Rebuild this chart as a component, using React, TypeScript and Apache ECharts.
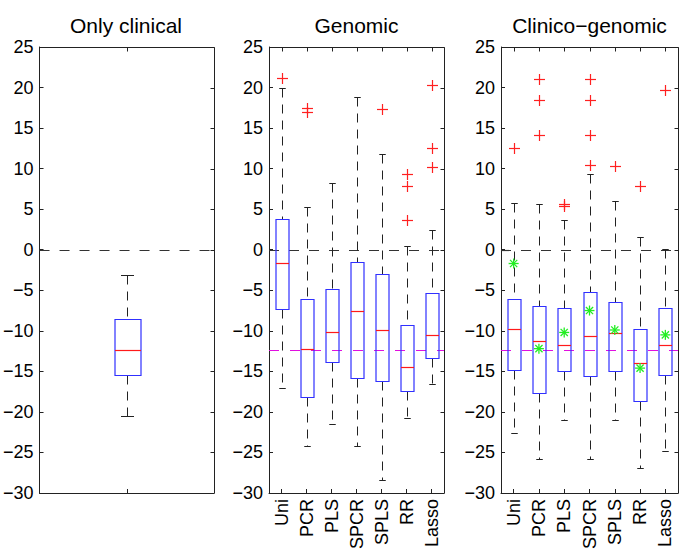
import React, { useEffect, useRef } from 'react';
import * as echarts from 'echarts';

const yMin = -30;
const yMax = 25;
const yInterval = 5;
const yTickValues = [-30, -25, -20, -15, -10, -5, 0, 5, 10, 15, 20, 25];

const panelTitles = ['Only clinical', 'Genomic', 'Clinico\u2212genomic'];
const clinicalCategories = [''];
const methodCategories = ['Uni', 'PCR', 'PLS', 'SPCR', 'SPLS', 'RR', 'Lasso'];

// [lower whisker, Q1, median, Q3, upper whisker]
const clinicalBoxes = [[-20.5, -15.5, -12.4, -8.6, -3.1]];
const genomicBoxes = [
  [-17.0, -7.3, -1.6, 3.8, 19.9],
  [-24.2, -18.1, -12.2, -6.1, 5.3],
  [-21.5, -13.9, -10.1, -4.9, 8.2],
  [-24.2, -15.8, -7.5, -1.5, 18.8],
  [-28.4, -16.2, -9.9, -3.0, 11.8],
  [-20.8, -17.4, -14.5, -9.3, 0.5],
  [-16.5, -13.4, -10.5, -5.3, 2.4],
];
// [category index, value]
const genomicOutliers = [
  [0, 21.2], [1, 17.5], [1, 17.0], [4, 17.3],
  [5, 9.3], [5, 7.8], [5, 3.7], [6, 20.3], [6, 12.5], [6, 10.2],
];
const clinicoBoxes = [
  [-22.6, -14.8, -9.8, -6.1, 5.8],
  [-25.8, -17.7, -11.2, -7.0, 5.7],
  [-21.0, -14.9, -11.8, -7.2, 3.7],
  [-25.8, -15.6, -10.7, -5.2, 9.4],
  [-21.0, -15.0, -10.3, -6.4, 6.0],
  [-26.9, -18.7, -14.0, -9.8, 1.6],
  [-24.8, -15.5, -11.8, -7.2, 0.1],
];
const clinicoOutliers = [
  [0, 12.5], [1, 21.1], [1, 18.5], [1, 14.2], [2, 5.7], [2, 5.4],
  [3, 21.1], [3, 18.5], [3, 14.2], [3, 10.5], [4, 10.3], [5, 7.8], [6, 19.7],
];
const clinicoMeans = [-1.7, -12.2, -10.2, -7.5, -9.9, -14.6, -10.5];

const zeroLine = 0;
const clinicalMedianRef = -12.4;

const FONT = '"Liberation Sans", Arial, Helvetica, sans-serif';
const AXIS_COLOR = '#222';
const BOX_COLOR = '#3030ff';
const MEDIAN_COLOR = '#ff1a1a';
const OUTLIER_COLOR = '#ff2020';
const STAR_COLOR = '#22ee22';
const REF_COLOR = '#e010e0';

const crisp = (v: number) => Math.round(v) + 0.5;

const boxRenderer = (boxW: number) => (params: any, api: any) => {
  const i = api.value(0);
  const lo = api.value(1);
  const q1 = api.value(2);
  const med = api.value(3);
  const q3 = api.value(4);
  const hi = api.value(5);
  const cx = crisp(api.coord([i, med])[0]);
  const y = (v: number) => crisp(api.coord([i, v])[1]);
  const half = boxW / 2;
  const cap = boxW / 4;
  return {
    type: 'group',
    children: [
      { type: 'line', shape: { x1: cx, y1: y(hi), x2: cx, y2: y(q3) }, style: { stroke: AXIS_COLOR, lineWidth: 1, lineDash: [9, 7] } },
      { type: 'line', shape: { x1: cx, y1: y(q1), x2: cx, y2: y(lo) }, style: { stroke: AXIS_COLOR, lineWidth: 1, lineDash: [9, 7] } },
      { type: 'line', shape: { x1: cx - cap, y1: y(hi), x2: cx + cap, y2: y(hi) }, style: { stroke: AXIS_COLOR, lineWidth: 1 } },
      { type: 'line', shape: { x1: cx - cap, y1: y(lo), x2: cx + cap, y2: y(lo) }, style: { stroke: AXIS_COLOR, lineWidth: 1 } },
      { type: 'rect', shape: { x: Math.round(cx - half), y: y(q3), width: Math.round(boxW), height: y(q1) - y(q3) }, style: { stroke: BOX_COLOR, fill: 'none', lineWidth: 1.2 } },
      { type: 'line', shape: { x1: Math.round(cx - half), y1: y(med), x2: Math.round(cx - half) + Math.round(boxW), y2: y(med) }, style: { stroke: MEDIAN_COLOR, lineWidth: 1.2 } },
    ],
  };
};

const plusRenderer = (params: any, api: any) => {
  const p = api.coord([api.value(0), api.value(1)]);
  const s = 5.5;
  const x = crisp(p[0]);
  const yy = crisp(p[1]);
  return {
    type: 'group',
    children: [
      { type: 'line', shape: { x1: x - s, y1: yy, x2: x + s, y2: yy }, style: { stroke: OUTLIER_COLOR, lineWidth: 1.2 } },
      { type: 'line', shape: { x1: x, y1: yy - s, x2: x, y2: yy + s }, style: { stroke: OUTLIER_COLOR, lineWidth: 1.2 } },
    ],
  };
};

const starRenderer = (params: any, api: any) => {
  const p = api.coord([api.value(0), api.value(1)]);
  const s = 5;
  const d = 3.6;
  const x = p[0];
  const yy = p[1];
  const st = { stroke: STAR_COLOR, lineWidth: 1.3 };
  return {
    type: 'group',
    children: [
      { type: 'line', shape: { x1: x - s, y1: yy, x2: x + s, y2: yy }, style: st },
      { type: 'line', shape: { x1: x, y1: yy - s, x2: x, y2: yy + s }, style: st },
      { type: 'line', shape: { x1: x - d, y1: yy - d, x2: x + d, y2: yy + d }, style: st },
      { type: 'line', shape: { x1: x - d, y1: yy + d, x2: x + d, y2: yy - d }, style: st },
    ],
  };
};

const hLineRenderer = (color: string, dash: number[]) => (params: any, api: any) => {
  const cs = params.coordSys;
  const yy = crisp(api.coord([0, api.value(1)])[1]);
  return {
    type: 'line',
    shape: { x1: cs.x, y1: yy, x2: cs.x + cs.width, y2: yy },
    style: { stroke: color, lineWidth: 1.2, lineDash: dash },
  };
};

// top and right frame edges with mirrored inward ticks (one item per grid)
const frameRenderer = (nCats: number) => (params: any, api: any) => {
  const cs = params.coordSys;
  const x0 = Number(cs.x);
  const y0 = Number(cs.y);
  const w = Number(cs.width);
  const h = Number(cs.height);
  const yt = Math.round(y0) + 0.5;
  const xr = Math.round(x0 + w) + 0.5;
  const children: any[] = [];
  children.push({ type: 'polyline', shape: { points: [[x0, yt], [xr, yt], [xr, y0 + h]] }, style: { stroke: AXIS_COLOR, lineWidth: 1, fill: 'none' } });
  const band = w / nCats;
  for (let i = 0; i < nCats; i++) {
    const x = crisp(x0 + band * (i + 0.5));
    children.push({ type: 'line', shape: { x1: x, y1: yt, x2: x, y2: yt + 4 }, style: { stroke: AXIS_COLOR, lineWidth: 1 } });
  }
  yTickValues.forEach((v) => {
    const yy = crisp(y0 + ((yMax - v) / (yMax - yMin)) * h);
    children.push({ type: 'line', shape: { x1: xr - 4, y1: yy, x2: xr, y2: yy }, style: { stroke: AXIS_COLOR, lineWidth: 1 } });
  });
  return { type: 'group', children };
};

const grids = [
  { left: 38, top: 47, width: 176, height: 446 },
  { left: 269, top: 47, width: 175, height: 446 },
  { left: 501, top: 47, width: 177, height: 446 },
];

export default function App() {
  const ref = useRef<HTMLDivElement>(null);
  useEffect(() => {
    if (!ref.current) return;
    const chart = echarts.init(ref.current, undefined, { renderer: 'svg' });
    const cats = [clinicalCategories, methodCategories, methodCategories];
    const xAxes: any[] = [];
    const yAxes: any[] = [];
    cats.forEach((c, g) => {
      xAxes.push({
        type: 'category',
        data: c,
        gridIndex: g,
        boundaryGap: true,
        position: 'bottom',
        axisLine: { show: true, onZero: false, lineStyle: { color: AXIS_COLOR, width: 1 } },
        axisTick: { show: true, inside: true, alignWithLabel: true, length: 4, lineStyle: { color: AXIS_COLOR } },
        splitLine: { show: false },
        axisLabel: { show: true, rotate: 90, margin: 6, fontSize: 18, color: '#000', fontFamily: FONT, interval: 0 },
      });
      yAxes.push({
        type: 'value',
        gridIndex: g,
        min: yMin,
        max: yMax,
        interval: yInterval,
        position: 'left',
        axisLine: { show: true, onZero: false, lineStyle: { color: AXIS_COLOR, width: 1 } },
        axisTick: { show: true, inside: true, length: 4, lineStyle: { color: AXIS_COLOR } },
        splitLine: { show: false },
        axisLabel: {
          show: true, margin: 6, fontSize: 18, color: '#000', fontFamily: FONT,
          formatter: (v: number) => String(v).replace('-', '\u2212'),
        },
      });
    });

    const series: any[] = [];
    const boxSets = [clinicalBoxes, genomicBoxes, clinicoBoxes];
    const boxWidths = [26, 13, 13];
    boxSets.forEach((boxes, g) => {
      series.push({
        type: 'custom', xAxisIndex: g, yAxisIndex: g, z: 6,
        renderItem: frameRenderer(cats[g].length),
        data: [[0, 0]], encode: { x: 0, y: 1 }, silent: true, clip: false,
      });
      series.push({
        type: 'custom', xAxisIndex: g, yAxisIndex: g, z: 1,
        renderItem: hLineRenderer('#333', [10, 10]),
        data: [[0, zeroLine]], encode: { x: 0, y: 1 }, silent: true,
      });
      if (g > 0) {
        series.push({
          type: 'custom', xAxisIndex: g, yAxisIndex: g, z: 1,
          renderItem: hLineRenderer(REF_COLOR, [10, 11]),
          data: [[0, clinicalMedianRef]], encode: { x: 0, y: 1 }, silent: true,
        });
      }
      series.push({
        type: 'custom', xAxisIndex: g, yAxisIndex: g, z: 2,
        renderItem: boxRenderer(boxWidths[g]),
        data: boxes.map((b, i) => [i, ...b]),
        encode: { x: 0, y: [1, 2, 3, 4, 5] }, silent: true,
      });
    });
    series.push({
      type: 'custom', xAxisIndex: 1, yAxisIndex: 1, z: 3,
      renderItem: plusRenderer, data: genomicOutliers, encode: { x: 0, y: 1 }, silent: true,
    });
    series.push({
      type: 'custom', xAxisIndex: 2, yAxisIndex: 2, z: 3,
      renderItem: plusRenderer, data: clinicoOutliers, encode: { x: 0, y: 1 }, silent: true,
    });
    series.push({
      type: 'custom', xAxisIndex: 2, yAxisIndex: 2, z: 4,
      renderItem: starRenderer, data: clinicoMeans.map((v, i) => [i, v]), encode: { x: 0, y: 1 }, silent: true,
    });

    const titles = grids.map((gr, g) => ({
      type: 'text',
      x: gr.left + gr.width / 2,
      y: 25,
      style: {
        text: panelTitles[g],
        fontSize: 21,
        fontFamily: FONT,
        fill: '#000',
        textAlign: 'center',
        textVerticalAlign: 'middle',
      },
    }));

    chart.setOption({
      animation: false,
      backgroundColor: '#fff',
      grid: grids.map((gr) => ({ ...gr, containLabel: false })),
      xAxis: xAxes,
      yAxis: yAxes,
      series,
      graphic: titles,
    });
    return () => chart.dispose();
  }, []);
  return <div ref={ref} style={{ position: 'fixed', left: 0, top: 0, width: 685, height: 554 }} />;
}
